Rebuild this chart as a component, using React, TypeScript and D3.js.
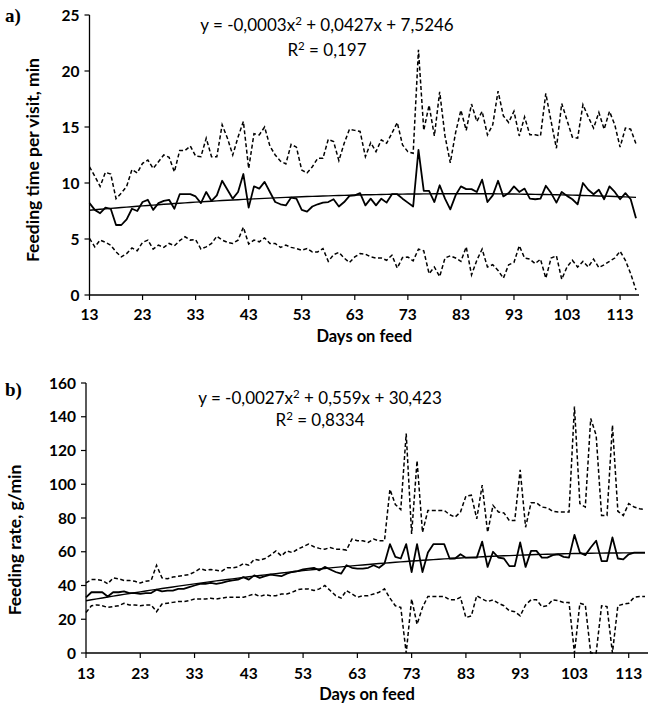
import React from 'react';
import * as d3 from 'd3';

// Days on feed (categories)
const days: number[] = d3.range(13, 117);
const dayTicks = [13, 23, 33, 43, 53, 63, 73, 83, 93, 103, 113];
const timeTicks = [0, 5, 10, 15, 20, 25];
const rateTicks = [0, 20, 40, 60, 80, 100, 120, 140, 160];

// a) Feeding time per visit, min
const timeMean = [
  8.2, 7.6, 7.3, 7.8, 7.7, 6.25, 6.25, 6.75, 7.7, 7.5,
  8.3, 8.5, 7.6, 8.2, 8.4, 8.5, 7.7, 9.0, 9.0, 9.0,
  8.8, 8.2, 9.2, 8.4, 8.9, 10.2, 9.4, 8.6, 9.2, 10.8,
  7.8, 9.7, 9.5, 10.1, 9.2, 8.3, 8.1, 8.0, 8.7, 8.6,
  7.6, 7.45, 7.9, 8.1, 8.25, 8.3, 8.55, 7.9, 8.3, 8.85,
  8.9, 9.1, 8.0, 8.6, 8.0, 8.6, 8.25, 9.0, 9.0, 8.6,
  8.25, 7.9, 12.95, 9.3, 9.3, 8.3, 9.8, 8.6, 7.65, 8.9,
  9.7, 9.45, 9.45, 9.2, 10.3, 8.3, 8.9, 10.2, 8.8, 9.1,
  9.7, 9.2, 9.5, 8.6, 8.55, 8.6, 9.75, 9.1, 8.25, 9.2,
  8.85, 8.55, 8.1, 10.0, 9.4, 9.0, 9.4, 8.55, 9.7, 9.2,
  8.55, 9.1, 8.55, 6.85,
];
const timeMax = [
  11.45, 10.6, 9.7, 10.95, 10.8, 8.6, 9.1, 9.7, 11.2, 10.9,
  11.75, 12.05, 11.3, 11.9, 12.5, 12.3, 11.0, 12.9, 12.9, 13.3,
  12.4, 12.35, 14.0, 12.35, 12.35, 15.2, 14.0, 12.5, 14.1, 15.5,
  11.3, 14.4, 14.3, 15.0, 13.3, 12.5, 11.95, 11.7, 13.45, 13.2,
  11.15, 10.9, 11.45, 12.2, 12.2, 13.9, 13.7, 12.0, 13.55, 14.8,
  14.7, 14.6, 12.35, 13.6, 12.8, 13.85, 13.55, 14.45, 15.4, 13.4,
  12.8, 12.65, 21.9, 14.7, 16.95, 14.2, 18.15, 14.2, 11.8, 14.5,
  16.5, 14.7, 17.05, 15.5, 16.4, 14.3, 15.2, 18.2, 16.0, 15.4,
  16.4, 14.2, 15.9, 14.3, 14.3, 14.2, 18.0, 15.5, 13.1, 17.1,
  15.6, 14.1, 14.0, 17.0, 15.9, 14.9, 16.3, 14.8, 16.4, 15.2,
  13.2, 14.9, 14.8, 13.5,
];
const timeMin = [
  5.05, 4.3, 4.9, 4.7, 4.45, 3.85, 3.4, 3.7, 4.2, 3.95,
  4.7, 4.9, 4.1, 4.45, 4.25, 4.6, 4.4, 4.85, 5.2, 4.9,
  4.95, 4.1, 4.3, 4.6, 5.25, 4.9, 4.7, 4.6, 4.9, 6.05,
  4.55, 4.9, 4.75, 5.1, 4.6, 4.6, 4.25, 4.45, 4.25, 4.15,
  4.0, 4.15, 3.85, 3.85, 4.15, 3.0, 3.6, 3.8, 3.3, 2.9,
  3.4, 3.7, 3.65, 3.4, 3.3, 3.3, 3.1, 3.55, 2.4, 3.35,
  3.4, 3.05, 4.1, 3.95, 1.9, 2.5, 1.65, 3.3, 3.5, 3.3,
  3.0, 4.3, 1.8, 3.1, 4.1, 2.5, 2.7, 2.2, 1.5, 2.7,
  2.9, 4.4, 3.3, 3.2, 2.8, 3.2, 1.5, 3.3, 3.5, 1.4,
  2.5, 3.1, 2.5, 3.0, 2.5, 3.2, 2.45, 2.7, 3.0, 3.3,
  3.9, 3.1, 1.9, 0.45,
];
const timeFit = [-0.0003, 0.0427, 7.5246];

// b) Feeding rate, g/min
const rateMean = [
  33, 36, 36, 36, 33.5, 36, 36, 36.5, 35.5, 35.5,
  35, 35.5, 35.5, 37.5, 36.5, 37, 37, 38, 38, 39,
  40, 41, 41, 41.5, 41, 41.5, 42.5, 43, 43.5, 45,
  43.5, 46, 44.5, 45.5, 46.5, 46, 45.5, 47, 48, 48.5,
  49.5, 50, 50.5, 49, 51, 49.5, 48, 47, 52, 50.5,
  50, 50, 50.5, 52, 50.5, 53, 64.5, 57, 56, 64.5,
  48, 64.5, 48, 59.5, 64.5, 64.5, 64.5, 56, 56, 58.5,
  56.5, 56.5, 56.5, 66, 51, 60, 56.5, 56, 51.5, 51.5,
  65.5, 51, 60.5, 60.5, 56.5, 56.5, 58, 58.5, 57, 56.5,
  70, 59.5, 58, 62.5, 66.5, 54.5, 54.5, 68.5, 56, 55.5,
  58.5, 59.5, 59.5, 59.5,
];
const rateMax = [
  41.5, 43.5, 43.5, 43, 41, 44.5, 44, 43, 43, 42.5,
  41.5, 42.5, 43, 52, 44.5, 44, 45, 45.5, 46, 46.5,
  48, 50, 49, 49.5, 49, 48.5, 50.5, 50.5, 51, 53,
  52, 55.5, 55, 56, 58, 60.5, 57.5, 60.5, 59.5, 61.5,
  63, 64.5, 63, 62, 61.5, 62.5, 61.5, 61.5, 61, 67.5,
  66.5, 66.5, 65.5, 67.5, 66.5, 66.5, 97, 88, 85, 130,
  70.5, 114, 71.5, 84.5, 84.5, 84.5, 84.5, 82, 80.5, 83.5,
  93, 93.5, 79.5, 99.5, 71.5, 87.5, 83.5, 83, 78.5, 78.5,
  108.5, 74.5, 89, 89, 86.5, 86, 84, 83.5, 83.5, 83.5,
  146, 88.5, 86.5, 139, 129, 81.5, 81.5, 135, 84, 81.5,
  88.5, 86.5, 85.5, 85,
];
const rateMin = [
  24, 28, 28.5, 28, 27, 27.5, 28, 29.5, 28.5, 28.5,
  28, 28.5, 28.5, 24.5, 29, 29.5, 30, 30.5, 30.5, 31,
  32, 32, 32, 32.5, 32, 32.5, 33, 33, 33, 33,
  34, 35, 33.5, 34.5, 34, 34, 35, 35, 36, 37.5,
  38, 38, 37, 38, 40, 37, 34, 32.5, 37, 35,
  33, 34, 34, 35, 36, 38, 32.5, 28, 27, 0,
  32, 17, 27, 33.5, 33.5, 33.5, 33.5, 31.5, 31.5, 33,
  21, 22, 34, 32, 30.5, 31.5, 29.5, 28, 25, 24.5,
  22, 28.5, 31.5, 31.5, 27.5, 28, 31.5, 31, 30, 30,
  0, 29.5, 28.5, 0, 0, 28, 27.5, 0, 28, 29,
  29.5, 33, 33.5, 33.5,
];
const rateFit = [-0.0027, 0.559, 30.423];

const FONT = 'Lato, Calibri, "Noto Sans", sans-serif';

type EqPart = { t: string; sup?: boolean };

type PanelProps = {
  label: string;
  xRange: [number, number];
  yRange: [number, number];
  yMax: number;
  yTicks: number[];
  mean: number[];
  max: number[];
  min: number[];
  fit: number[];
  eq: EqPart[];
  r2: EqPart[];
  eqX: number;
  eqY: number;
  r2Y: number;
  yTitle: string;
  yTitleX: number;
  yTitleY: number;
  xTickY: number;
  xTitleY: number;
  labelY: number;
};

function EqText({ parts, x, y }: { parts: EqPart[]; x: number; y: number }) {
  return (
    <text x={x} y={y} textAnchor="middle" fontFamily={FONT} fontSize={17}>
      {parts.map((p, i) =>
        p.sup ? (
          <tspan key={i} fontSize={11.5} dy={-6.5}>
            {p.t}
          </tspan>
        ) : (
          <tspan key={i} dy={i > 0 && parts[i - 1].sup ? 6.5 : 0}>
            {p.t}
          </tspan>
        )
      )}
    </text>
  );
}

function Panel(p: PanelProps) {
  const x = d3.scaleLinear().domain([13, 116]).range(p.xRange);
  const y = d3.scaleLinear().domain([0, p.yMax]).range(p.yRange);
  const line = d3
    .line<number>()
    .x((_, i) => x(days[i]))
    .y((d) => y(d));
  const fitVals = days.map((d) => {
    const t = d - 12;
    return p.fit[0] * t * t + p.fit[1] * t + p.fit[2];
  });
  const x0 = p.xRange[0];
  const xEnd = p.xRange[1] + 3;
  const yBase = p.yRange[0];
  return (
    <g>
      <text x={5} y={p.labelY} fontFamily="'Times New Roman', 'Liberation Serif', serif" fontWeight="bold" fontSize={19}>
        {p.label}
      </text>
      {/* axes */}
      <line x1={x0} x2={x0} y1={p.yRange[1]} y2={yBase} stroke="#000" strokeWidth={1.3} />
      <line x1={x0} x2={xEnd} y1={yBase} y2={yBase} stroke="#000" strokeWidth={1.3} />
      {p.yTicks.map((t) => (
        <g key={'y' + t}>
          <line x1={x0 - 5} x2={x0} y1={y(t)} y2={y(t)} stroke="#000" strokeWidth={1.2} />
          <text x={x0 - 10} y={y(t)} dy="0.36em" textAnchor="end" fontFamily={FONT} fontWeight="bold" fontSize={15.5}>
            {t}
          </text>
        </g>
      ))}
      {dayTicks.map((t) => (
        <g key={'x' + t}>
          <line x1={x(t)} x2={x(t)} y1={yBase} y2={yBase + 5} stroke="#000" strokeWidth={1.2} />
          <text x={x(t)} y={p.xTickY} textAnchor="middle" fontFamily={FONT} fontWeight="bold" fontSize={15.5}>
            {t}
          </text>
        </g>
      ))}
      <text x={(x0 + xEnd) / 2} y={p.xTitleY} textAnchor="middle" fontFamily={FONT} fontWeight="bold" fontSize={16.5}>
        Days on feed
      </text>
      <text
        transform={`translate(${p.yTitleX},${p.yTitleY}) rotate(-90)`}
        textAnchor="middle"
        dy="0.35em"
        fontFamily={FONT}
        fontWeight="bold"
        fontSize={17.5}
      >
        {p.yTitle}
      </text>
      {/* series */}
      <path d={line(p.max) || ''} fill="none" stroke="#000" strokeWidth={1.5} strokeDasharray="4 2.5" />
      <path d={line(p.min) || ''} fill="none" stroke="#000" strokeWidth={1.5} strokeDasharray="4 2.5" />
      <path d={line(p.mean) || ''} fill="none" stroke="#000" strokeWidth={1.8} strokeLinejoin="round" />
      <path d={line(fitVals) || ''} fill="none" stroke="#000" strokeWidth={1.4} />
      <EqText parts={p.eq} x={p.eqX} y={p.eqY} />
      <EqText parts={p.r2} x={p.eqX} y={p.r2Y} />
    </g>
  );
}

export default function App() {
  return (
    <svg
      width={650}
      height={709}
      viewBox="0 0 650 709"
      style={{ position: 'absolute', left: 0, top: 0, display: 'block', background: '#fff' }}
    >
      <rect width={650} height={709} fill="#fff" />
      <Panel
        label="a)"
        labelY={22}
        xRange={[89.5, 636]}
        yRange={[295, 15]}
        yMax={25}
        yTicks={timeTicks}
        mean={timeMean}
        max={timeMax}
        min={timeMin}
        fit={timeFit}
        eq={[{ t: 'y = -0,0003x' }, { t: '2', sup: true }, { t: ' + 0,0427x + 7,5246' }]}
        r2={[{ t: 'R' }, { t: '2', sup: true }, { t: ' = 0,197' }]}
        eqX={327}
        eqY={31}
        r2Y={56}
        yTitle="Feeding time per visit, min"
        yTitleX={33}
        yTitleY={160}
        xTickY={320}
        xTitleY={342}
      />
      <Panel
        label="b)"
        labelY={396}
        xRange={[86, 645]}
        yRange={[653, 383]}
        yMax={160}
        yTicks={rateTicks}
        mean={rateMean}
        max={rateMax}
        min={rateMin}
        fit={rateFit}
        eq={[{ t: 'y = -0,0027x' }, { t: '2', sup: true }, { t: ' + 0,559x + 30,423' }]}
        r2={[{ t: 'R' }, { t: '2', sup: true }, { t: ' = 0,8334' }]}
        eqX={320}
        eqY={404}
        r2Y={426}
        yTitle="Feeding rate, g/min"
        yTitleX={15}
        yTitleY={540}
        xTickY={679}
        xTitleY={700}
      />
    </svg>
  );
}
